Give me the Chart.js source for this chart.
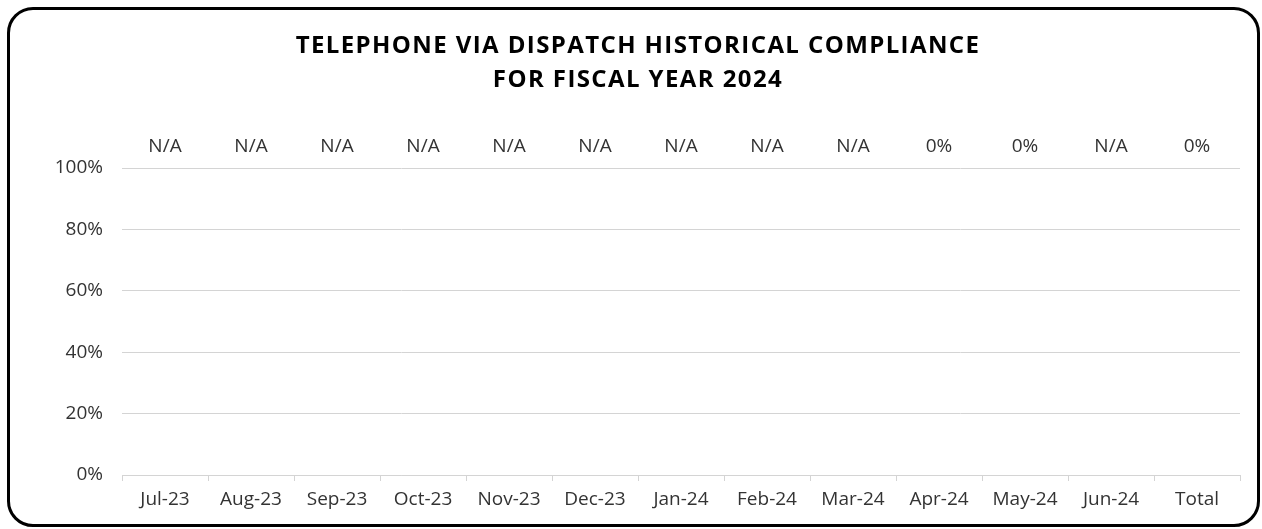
<!DOCTYPE html>
<html>
<head>
<meta charset="utf-8">
<script src="https://cdn.jsdelivr.net/npm/chart.js@4"></script>
<style>
  html, body { margin: 0; padding: 0; background: #fff; }
  #frame {
    position: absolute; left: 7px; top: 7px; width: 1253px; height: 520px;
    box-sizing: border-box; border: 3px solid #000; border-radius: 26px;
  }
  #wrap { position: absolute; left: 0; top: 0; width: 1262px; height: 529px; }
</style>
</head>
<body>
<div id="frame"></div>
<div id="wrap"><canvas id="myChart" width="1262" height="529"></canvas></div>
<script>
'use strict';

/** Data */
let months = ['Jul-23', 'Aug-23', 'Sep-23', 'Oct-23', 'Nov-23', 'Dec-23', 'Jan-24', 'Feb-24', 'Mar-24', 'Apr-24', 'May-24', 'Jun-24', 'Total'];
// null = no calls that month (shown as N/A)
let compliance = [null, null, null, null, null, null, null, null, null, 0, 0, null, 0];
let yTicks = [0, 0.2, 0.4, 0.6, 0.8, 1];
let titleLines = ['TELEPHONE VIA DISPATCH HISTORICAL COMPLIANCE', 'FOR FISCAL YEAR 2024'];

let labelFont = '"Open Sans", sans-serif';
let textColor = '#333333';
let gridColor = '#d4d4d4';

// Title with spaced letters, like the Excel original
let spacedTitle = {
  id: 'spacedTitle',
  afterDraw(chart) {
    let c = chart.ctx;
    c.save();
    c.font = 'bold 24px ' + labelFont;
    c.letterSpacing = '1.4px';
    c.fillStyle = '#000';
    c.textAlign = 'center';
    c.textBaseline = 'middle';
    for (let i = 0; i < titleLines.length; i++) {
      c.fillText(titleLines[i], 638, 46 + i * 34);
    }
    c.restore();
  }
};

// Labels above the plot area (N/A or percent)
let topLabels = {
  id: 'topLabels',
  afterDraw(chart) {
    let c = chart.ctx;
    let xScale = chart.scales.x;
    c.save();
    c.font = '19px ' + labelFont;
    c.fillStyle = textColor;
    c.textAlign = 'center';
    c.textBaseline = 'middle';
    for (let i = 0; i < compliance.length; i++) {
      let v = compliance[i];
      let txt = v === null ? 'N/A' : Math.round(v * 100) + '%';
      c.fillText(txt, xScale.getPixelForValue(i), chart.chartArea.top - 21);
    }
    c.restore();
  }
};

let ctx = document.getElementById('myChart');

new Chart(ctx, {
  type: 'bar',
  data: {
    labels: months,
    datasets: [{
      label: 'Compliance',
      data: compliance,
      backgroundColor: '#4472c4'
    }]
  },
  options: {
    responsive: false,
    animation: false,
    layout: { padding: { left: 0, right: 22, top: 168, bottom: 0 } },
    plugins: {
      legend: { display: false },
      tooltip: { enabled: false },
      title: { display: false }
    },
    scales: {
      x: {
        offset: true,
        grid: { offset: true, drawOnChartArea: false, color: gridColor, tickLength: 6 },
        border: { color: gridColor },
        ticks: { color: textColor, font: { family: labelFont, size: 19 }, padding: 7, maxRotation: 0, autoSkip: false },
        afterFit(scale) { scale.height = 529 - 475; }
      },
      y: {
        min: 0,
        max: 1,
        afterBuildTicks(scale) { scale.ticks = yTicks.map(v => ({ value: v })); },
        grid: { color: gridColor, drawTicks: false },
        border: { display: false },
        ticks: {
          color: textColor,
          font: { family: labelFont, size: 19 },
          padding: 19,
          callback: v => Math.round(v * 100) + '%'
        },
        afterFit(scale) { scale.width = 122; }
      }
    }
  },
  plugins: [spacedTitle, topLabels]
});
</script>
</body>
</html>
